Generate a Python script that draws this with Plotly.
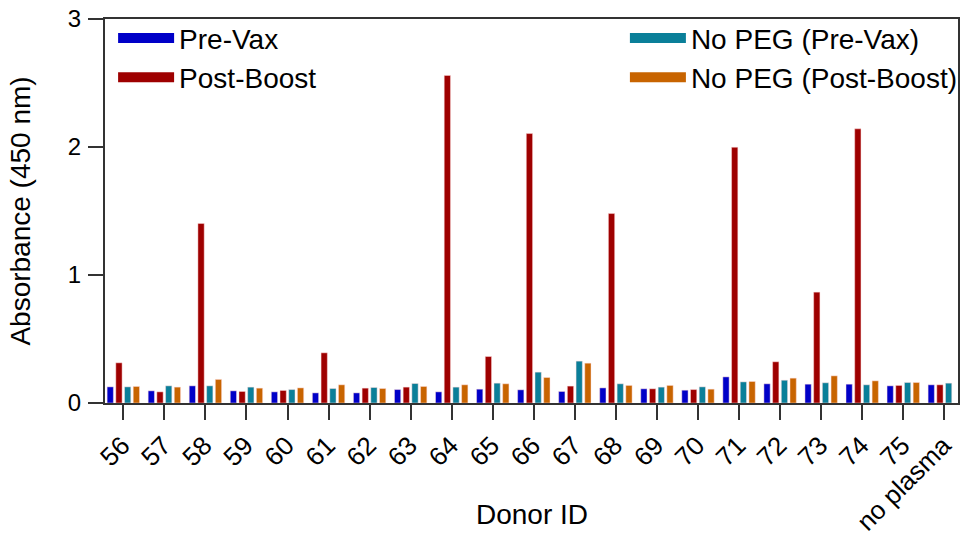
import plotly.graph_objects as go

donors = ["56", "57", "58", "59", "60", "61", "62", "63", "64", "65", "66",
          "67", "68", "69", "70", "71", "72", "73", "74", "75", "no plasma"]
pre_vax = [0.126, 0.095, 0.134, 0.095, 0.087, 0.079, 0.079, 0.105, 0.087, 0.108, 0.103,
           0.090, 0.118, 0.111, 0.100, 0.204, 0.150, 0.147, 0.147, 0.134, 0.142]
post_boost = [0.314, 0.087, 1.402, 0.090, 0.098, 0.392, 0.116, 0.124, 2.559, 0.363, 2.105,
              0.132, 1.480, 0.111, 0.105, 1.998, 0.322, 0.866, 2.142, 0.137, 0.142]
nopeg_pre = [0.126, 0.134, 0.134, 0.124, 0.105, 0.113, 0.121, 0.152, 0.124, 0.155, 0.241,
             0.327, 0.150, 0.124, 0.126, 0.165, 0.178, 0.158, 0.142, 0.160, 0.155]
nopeg_post = [0.129, 0.124, 0.184, 0.116, 0.118, 0.142, 0.113, 0.129, 0.142, 0.150, 0.199,
              0.311, 0.137, 0.137, 0.108, 0.168, 0.194, 0.212, 0.173, 0.160, None]

series = [
    ("Pre-Vax", pre_vax, "#0000C8", "legend"),
    ("Post-Boost", post_boost, "#9E0000", "legend"),
    ("No PEG (Pre-Vax)", nopeg_pre, "#0A7F99", "legend2"),
    ("No PEG (Post-Boost)", nopeg_post, "#C86400", "legend2"),
]

FONT = "Arial, Liberation Sans, sans-serif"
fig = go.Figure()
for name, vals, color, lg in series:
    fig.add_trace(go.Bar(x=donors, y=vals, name=name, marker_color=color,
                         marker_line=dict(width=0.6, color="rgba(255,220,220,0.8)"),
                         showlegend=False))
for name, vals, color, lg in series:
    fig.add_trace(go.Scatter(x=[None], y=[None], mode="lines", name=name,
                             line=dict(color=color, width=16), legend=lg))

axis_common = dict(showline=True, linewidth=2, linecolor="#333333", mirror=True,
                   ticks="outside", ticklen=15, tickwidth=2, tickcolor="#333333",
                   showgrid=False, zeroline=False, automargin=False,
                   ticklabeloverflow="allow")

fig.update_layout(
    width=964, height=540,
    margin=dict(l=105, r=6, t=19, b=136.5, autoexpand=False),
    plot_bgcolor="white", paper_bgcolor="white",
    font=dict(family=FONT, size=24, color="black"),
    barmode="group", bargap=0.152, bargroupgap=0.28,
    xaxis=dict(**axis_common, type="category", range=[-0.446, 20.334], tickangle=-45,
               tickfont=dict(size=26), ticklabelshift=-1),
    yaxis=dict(**axis_common, range=[0, 3], tickvals=[0, 1, 2, 3],
               tickfont=dict(size=24), ticklabelstandoff=2,
               title=dict(text="Absorbance (450 nm)", font=dict(size=28), standoff=29)),
    legend=dict(x=0.0095, y=1.015, xanchor="left", yanchor="top", bgcolor="rgba(0,0,0,0)",
                font=dict(size=28), itemwidth=56, tracegroupgap=0),
    legend2=dict(x=0.6095, y=1.015, xanchor="left", yanchor="top", bgcolor="rgba(0,0,0,0)",
                 font=dict(size=28), itemwidth=56, tracegroupgap=0),
    annotations=[dict(text="Donor ID", xref="paper", yref="paper", x=0.5, y=0,
                      xanchor="center", yanchor="middle", yshift=-111, showarrow=False,
                      font=dict(size=28))],
)

fig.write_html("out.html", config={"displayModeBar": False},
               post_script="document.body.style.margin='0';")
